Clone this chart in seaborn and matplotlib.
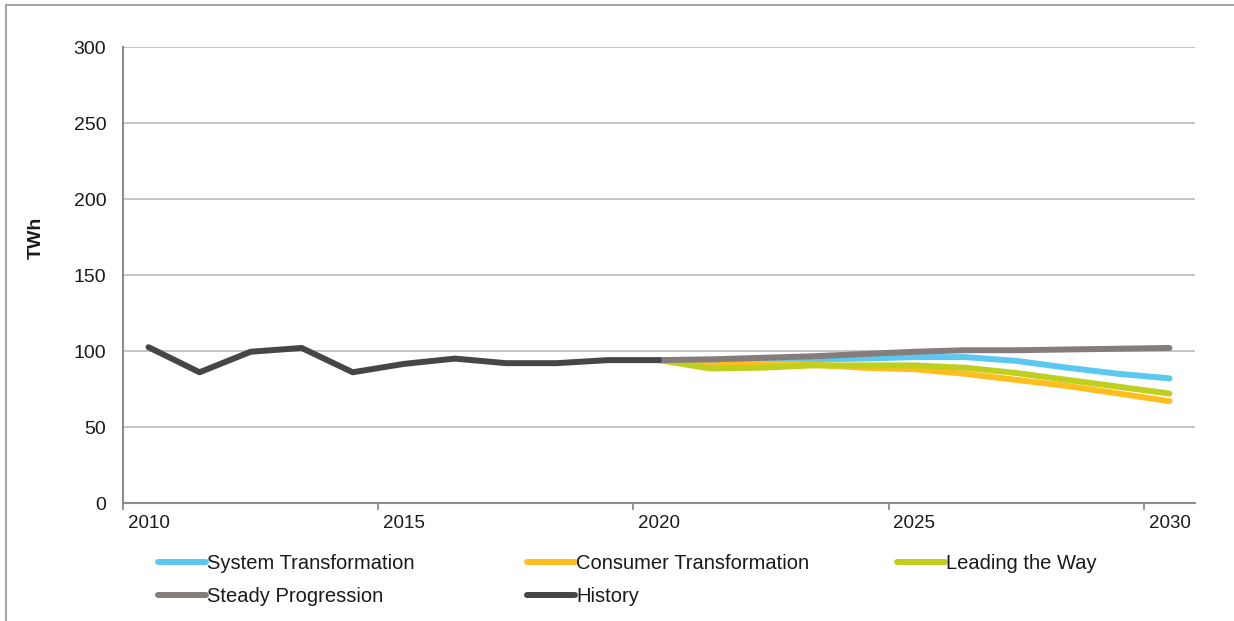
import matplotlib
matplotlib.use("Agg")
import matplotlib.pyplot as plt
from matplotlib.patches import Rectangle
from matplotlib.ticker import FixedLocator
import seaborn as sns
import pandas as pd

# Annual demand, TWh
history_years = list(range(2010, 2021))
history = [102.5, 86, 99.5, 102, 86, 91.5, 95, 92, 92, 94, 94]

scenario_years = list(range(2020, 2031))
system_transformation = [94, 92.5, 93.5, 94.5, 95, 96, 96, 93.5, 89, 85, 82]
consumer_transformation = [94, 90.5, 91.5, 91, 89, 88, 85, 81, 77, 72, 67]
leading_the_way = [94, 88.5, 89, 90.5, 90.5, 90.5, 89, 85.5, 81, 76.5, 72]
steady_progression = [94, 94.5, 95.5, 96.5, 98, 99.5, 100.5, 100.5, 101, 101.5, 102]

series_names = ["System Transformation", "Consumer Transformation",
                "Leading the Way", "Steady Progression", "History"]
series_colors = ["#5BC8F0", "#FFBE1E", "#BFCF1E", "#857C7C", "#464646"]
y_ticks = [0, 50, 100, 150, 200, 250, 300]
x_tick_labels = [2010, 2015, 2020, 2025, 2030]

frames = []
for name, years, vals in [
    ("System Transformation", scenario_years, system_transformation),
    ("Consumer Transformation", scenario_years, consumer_transformation),
    ("Leading the Way", scenario_years, leading_the_way),
    ("Steady Progression", scenario_years, steady_progression),
    ("History", history_years, history),
]:
    frames.append(pd.DataFrame({"year": years, "TWh": vals, "series": name}))
df = pd.concat(frames, ignore_index=True)

sns.set_theme(style="white")
plt.rcParams["font.family"] = ["Liberation Sans", "DejaVu Sans"]

W, H = 1234, 621
fig = plt.figure(figsize=(W / 100, H / 100), dpi=100)
ax = fig.add_axes([123 / W, 1 - 503 / H, (1195 - 123) / W, (503 - 47) / H])

sns.lineplot(data=df, x="year", y="TWh", hue="series", hue_order=series_names,
             palette=dict(zip(series_names, series_colors)), linewidth=4.3,
             sort=False, legend=False, ax=ax, solid_capstyle="round",
             solid_joinstyle="round")

ax.set_xlim(2009.5, 2030.5)
ax.set_ylim(0, 300)
ax.set_yticks(y_ticks)
ax.set_yticklabels([str(v) for v in y_ticks])
ax.set_xticks(x_tick_labels)
ax.set_xticklabels([str(v) for v in x_tick_labels])
ax.xaxis.set_minor_locator(FixedLocator([2009.5, 2014.5, 2019.5, 2024.5, 2029.5]))

ax.grid(axis="y", color="#C0C0C0", linewidth=1.3)
ax.grid(axis="x", visible=False)
ax.set_axisbelow(True)
for side in ["top", "right"]:
    ax.spines[side].set_visible(False)
for side in ["left", "bottom"]:
    ax.spines[side].set_color("#8C8C8C")
    ax.spines[side].set_linewidth(1.5)

ax.tick_params(axis="y", which="major", length=0, pad=12, labelsize=14,
               labelcolor="#1A1A1A")
ax.tick_params(axis="x", which="major", length=0, pad=9, labelsize=13.5,
               labelcolor="#1A1A1A")
ax.tick_params(axis="x", which="minor", bottom=True, length=5, width=1.3,
               color="#8C8C8C", direction="out")
ax.set_xlabel("")
ax.set_ylabel("")

fig.text(36 / W, 1 - 238 / H, "TWh", rotation=90, ha="center", va="center",
         fontsize=14, fontweight="bold", color="#1A1A1A")

# Legend: three columns placed under the axis
lines = ax.get_lines()
handles = {name: ln for name, ln in zip(series_names, lines)}
columns = [
    (["System Transformation", "Steady Progression"], 158),
    (["Consumer Transformation", "History"], 527),
    (["Leading the Way"], 897),
]
for names, xpix in columns:
    leg = fig.legend([handles[n] for n in names], names,
                     loc="upper left", bbox_to_anchor=(xpix / W, 1 - 554 / H),
                     frameon=False, fontsize=14.5, handlelength=2.4,
                     handletextpad=0.05, labelspacing=0.68, borderaxespad=0,
                     borderpad=0)
    for t in leg.get_texts():
        t.set_color("#1A1A1A")

# Frame around the figure
fig.add_artist(Rectangle((6 / W, -0.1), 1.2, 1.1 - 5 / H,
                         transform=fig.transFigure, fill=False,
                         edgecolor="#A6A6A6", linewidth=1.5))

fig.savefig("out.png", dpi=100)
